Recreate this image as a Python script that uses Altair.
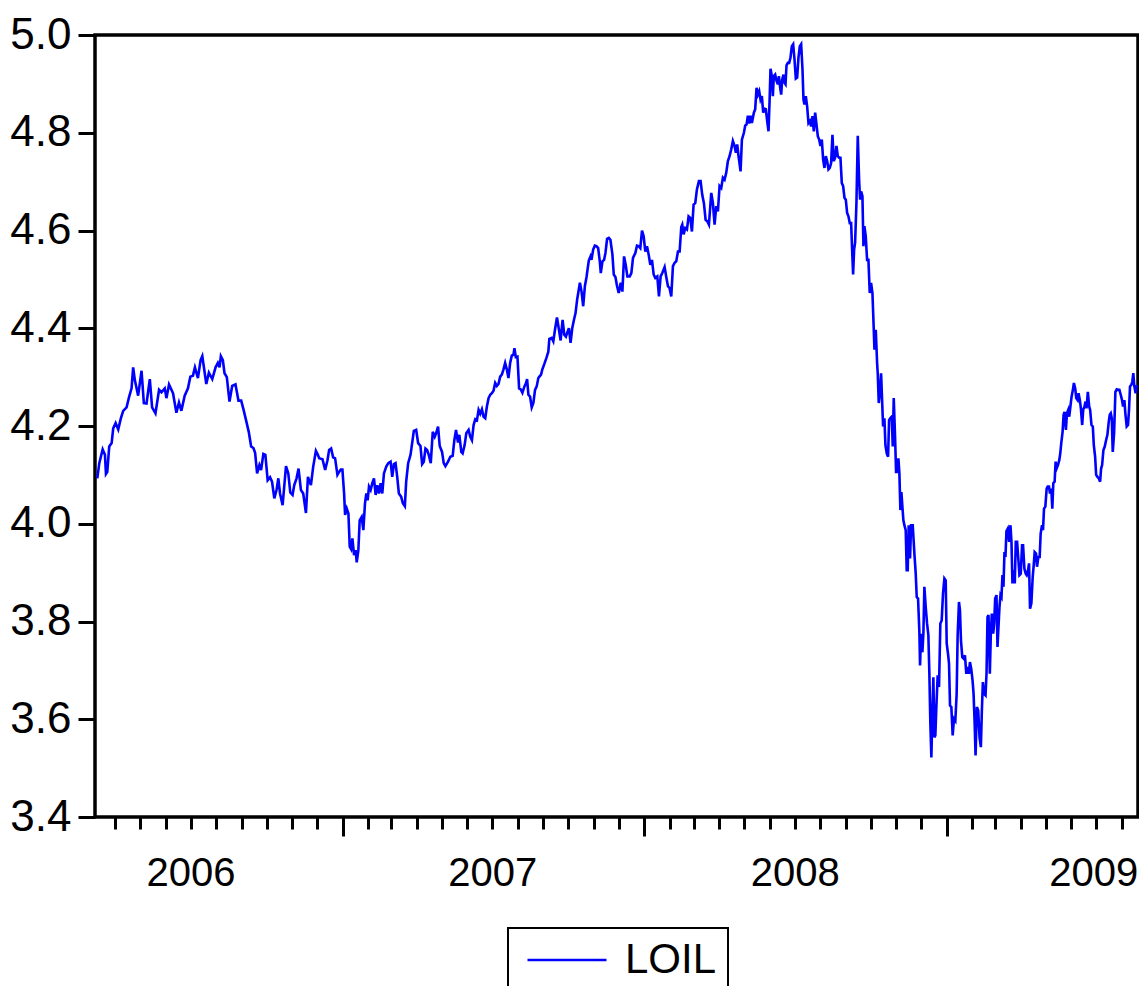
import altair as alt
import pandas as pd

# (decimal year, LOIL) readings, split by period
seg_2006 = [
    (2006.1868, 4.093), (2006.1934, 4.124), (2006.2046, 4.152), (2006.2122, 4.141), (2006.2155, 4.102),
    (2006.2198, 4.106), (2006.2264, 4.158), (2006.2344, 4.165), (2006.2396, 4.195), (2006.2476, 4.206),
    (2006.2562, 4.193), (2006.2651, 4.216), (2006.2727, 4.231), (2006.2839, 4.238), (2006.2925, 4.260),
    (2006.3004, 4.277), (2006.3057, 4.320), (2006.3113, 4.294), (2006.3222, 4.262), (2006.3335, 4.313),
    (2006.3411, 4.247), (2006.3500, 4.246), (2006.3609, 4.296), (2006.3685, 4.238), (2006.3797, 4.226),
    (2006.3916, 4.274), (2006.3995, 4.269), (2006.4104, 4.277), (2006.4160, 4.257), (2006.4246, 4.285),
    (2006.4378, 4.267), (2006.4491, 4.227), (2006.4576, 4.248), (2006.4656, 4.231), (2006.4765, 4.262),
    (2006.4874, 4.277), (2006.4953, 4.301), (2006.5039, 4.303), (2006.5105, 4.320), (2006.5204, 4.298),
    (2006.5293, 4.335), (2006.5349, 4.343), (2006.5482, 4.286), (2006.5567, 4.309), (2006.5680, 4.296),
    (2006.5789, 4.320), (2006.5865, 4.329), (2006.5921, 4.320), (2006.5964, 4.343), (2006.6030, 4.335),
    (2006.6086, 4.308), (2006.6162, 4.300), (2006.6251, 4.250), (2006.6340, 4.282), (2006.6449, 4.285),
    (2006.6548, 4.252), (2006.6638, 4.252), (2006.6714, 4.234), (2006.6803, 4.211), (2006.6889, 4.188),
    (2006.6968, 4.158), (2006.7044, 4.155), (2006.7100, 4.145), (2006.7166, 4.103), (2006.7242, 4.120),
    (2006.7298, 4.110), (2006.7374, 4.143), (2006.7440, 4.141), (2006.7516, 4.089), (2006.7595, 4.095),
    (2006.7661, 4.086), (2006.7737, 4.052), (2006.7813, 4.070), (2006.7870, 4.093), (2006.7926, 4.062),
    (2006.8012, 4.038), (2006.8124, 4.118), (2006.8200, 4.103), (2006.8266, 4.064), (2006.8342, 4.059),
    (2006.8398, 4.079), (2006.8474, 4.093), (2006.8540, 4.113), (2006.8619, 4.069), (2006.8695, 4.062),
    (2006.8785, 4.022), (2006.8851, 4.096), (2006.8950, 4.079), (2006.9026, 4.117), (2006.9115, 4.149),
    (2006.9181, 4.141),
]

seg_2007a = [
    (2006.9224, 4.134), (2006.9334, 4.132), (2006.9422, 4.110), (2006.9499, 4.130), (2006.9554, 4.151),
    (2006.9620, 4.154), (2006.9686, 4.136), (2006.9752, 4.134), (2006.9829, 4.100), (2006.9884, 4.106),
    (2006.9940, 4.111), (2006.9994, 4.111), (2007.0050, 4.062), (2007.0083, 4.018), (2007.0138, 4.031),
    (2007.0193, 4.021), (2007.0237, 3.953), (2007.0281, 3.948), (2007.0325, 3.970), (2007.0380, 3.936),
    (2007.0435, 3.946), (2007.0468, 3.921), (2007.0523, 3.946), (2007.0567, 4.007), (2007.0633, 4.014),
    (2007.0688, 3.987), (2007.0743, 4.042), (2007.0787, 4.062), (2007.0831, 4.048), (2007.0875, 4.076),
    (2007.0930, 4.069), (2007.0985, 4.083), (2007.1040, 4.093), (2007.1096, 4.059), (2007.1150, 4.079),
    (2007.1206, 4.062), (2007.1261, 4.083), (2007.1316, 4.062), (2007.1371, 4.103), (2007.1448, 4.117),
    (2007.1514, 4.124), (2007.1591, 4.127), (2007.1646, 4.096), (2007.1701, 4.122), (2007.1756, 4.124),
    (2007.1811, 4.096), (2007.1866, 4.062), (2007.1943, 4.055), (2007.1998, 4.042), (2007.2064, 4.036),
    (2007.2108, 4.086), (2007.2174, 4.124), (2007.2252, 4.141), (2007.2306, 4.165), (2007.2362, 4.190),
    (2007.2439, 4.192), (2007.2505, 4.165), (2007.2582, 4.159), (2007.2637, 4.122), (2007.2692, 4.127),
    (2007.2747, 4.154), (2007.2802, 4.151), (2007.2857, 4.141), (2007.2923, 4.124), (2007.2989, 4.188),
    (2007.3055, 4.178), (2007.3099, 4.185), (2007.3165, 4.199), (2007.3220, 4.159), (2007.3297, 4.147),
    (2007.3353, 4.124), (2007.3408, 4.118), (2007.3496, 4.127), (2007.3573, 4.137), (2007.3650, 4.139),
    (2007.3705, 4.171), (2007.3760, 4.192), (2007.3826, 4.166), (2007.3870, 4.182), (2007.3936, 4.147),
    (2007.3980, 4.144), (2007.4046, 4.161), (2007.4101, 4.185), (2007.4178, 4.192), (2007.4233, 4.178),
    (2007.4288, 4.171), (2007.4343, 4.202), (2007.4399, 4.214), (2007.4454, 4.212), (2007.4509, 4.233),
    (2007.4564, 4.225), (2007.4619, 4.234), (2007.4674, 4.219), (2007.4729, 4.216), (2007.4784, 4.240),
    (2007.4839, 4.257), (2007.4894, 4.264), (2007.4949, 4.267), (2007.5004, 4.272), (2007.5059, 4.288),
    (2007.5114, 4.282), (2007.5169, 4.286), (2007.5224, 4.301), (2007.5279, 4.305), (2007.5334, 4.316),
    (2007.5389, 4.329), (2007.5444, 4.316), (2007.5499, 4.298), (2007.5555, 4.329), (2007.5609, 4.344),
    (2007.5665, 4.346), (2007.5698, 4.359), (2007.5742, 4.341), (2007.5797, 4.342), (2007.5852, 4.277),
    (2007.5907, 4.275), (2007.5962, 4.268), (2007.6028, 4.281), (2007.6072, 4.286), (2007.6116, 4.296),
    (2007.6160, 4.264), (2007.6215, 4.260), (2007.6270, 4.238), (2007.6325, 4.247), (2007.6380, 4.274),
    (2007.6435, 4.281), (2007.6490, 4.298),
]

seg_2007b = [
    (2007.6512, 4.300), (2007.6579, 4.305), (2007.6623, 4.316), (2007.6689, 4.327), (2007.6755, 4.339),
    (2007.6821, 4.352), (2007.6854, 4.378), (2007.6931, 4.380), (2007.6986, 4.373), (2007.7041, 4.397),
    (2007.7107, 4.422), (2007.7173, 4.397), (2007.7228, 4.375), (2007.7294, 4.417), (2007.7349, 4.387),
    (2007.7404, 4.383), (2007.7459, 4.393), (2007.7503, 4.400), (2007.7558, 4.370), (2007.7613, 4.400),
    (2007.7669, 4.417), (2007.7723, 4.431), (2007.7779, 4.460), (2007.7812, 4.472), (2007.7867, 4.493),
    (2007.7922, 4.475), (2007.7977, 4.445), (2007.8032, 4.486), (2007.8087, 4.505), (2007.8120, 4.520),
    (2007.8164, 4.539), (2007.8219, 4.547), (2007.8252, 4.540), (2007.8307, 4.561), (2007.8362, 4.569),
    (2007.8417, 4.568), (2007.8472, 4.564), (2007.8527, 4.537), (2007.8560, 4.513), (2007.8615, 4.537),
    (2007.8670, 4.540), (2007.8714, 4.554), (2007.8769, 4.583), (2007.8825, 4.585), (2007.8879, 4.581),
    (2007.8945, 4.551), (2007.8990, 4.510), (2007.9045, 4.505), (2007.9100, 4.486), (2007.9155, 4.472),
    (2007.9221, 4.493), (2007.9276, 4.475), (2007.9331, 4.547), (2007.9386, 4.530), (2007.9441, 4.506),
    (2007.9518, 4.506), (2007.9573, 4.513), (2007.9628, 4.544), (2007.9705, 4.554), (2007.9760, 4.569),
    (2007.9815, 4.568), (2007.9870, 4.564), (2007.9926, 4.600), (2007.9981, 4.588),
]

seg_2008a = [
    (2008.0036, 4.557), (2008.0091, 4.568), (2008.0146, 4.551), (2008.0201, 4.530), (2008.0256, 4.540),
    (2008.0311, 4.510), (2008.0366, 4.503), (2008.0432, 4.506), (2008.0487, 4.465), (2008.0542, 4.506),
    (2008.0597, 4.513), (2008.0674, 4.525), (2008.0729, 4.505), (2008.0784, 4.486), (2008.0839, 4.482),
    (2008.0894, 4.465), (2008.0949, 4.527), (2008.1005, 4.534), (2008.1059, 4.537), (2008.1115, 4.557),
    (2008.1170, 4.557), (2008.1225, 4.607), (2008.1258, 4.612), (2008.1302, 4.592), (2008.1357, 4.605),
    (2008.1412, 4.602), (2008.1467, 4.629), (2008.1522, 4.626), (2008.1577, 4.598), (2008.1632, 4.653),
    (2008.1687, 4.656), (2008.1742, 4.684), (2008.1808, 4.701), (2008.1863, 4.701), (2008.1918, 4.673),
    (2008.1973, 4.656), (2008.2029, 4.622), (2008.2083, 4.619), (2008.2139, 4.612), (2008.2216, 4.677),
    (2008.2271, 4.656), (2008.2326, 4.612), (2008.2381, 4.650), (2008.2436, 4.639), (2008.2491, 4.691),
    (2008.2546, 4.687), (2008.2601, 4.708), (2008.2656, 4.704), (2008.2711, 4.718), (2008.2766, 4.742),
]

seg_2008b = [
    (2008.2821, 4.752), (2008.2876, 4.766), (2008.2931, 4.783), (2008.2986, 4.773), (2008.3030, 4.759),
    (2008.3074, 4.776), (2008.3118, 4.752), (2008.3185, 4.721), (2008.3229, 4.786), (2008.3295, 4.800),
    (2008.3339, 4.815), (2008.3383, 4.817), (2008.3427, 4.835), (2008.3471, 4.819), (2008.3515, 4.835),
    (2008.3559, 4.820), (2008.3625, 4.841), (2008.3669, 4.848), (2008.3713, 4.892), (2008.3757, 4.878),
    (2008.3801, 4.885), (2008.3845, 4.868), (2008.3889, 4.875), (2008.3933, 4.841), (2008.3977, 4.849),
    (2008.4021, 4.848), (2008.4065, 4.824), (2008.4109, 4.803), (2008.4142, 4.861), (2008.4175, 4.931),
    (2008.4219, 4.916), (2008.4252, 4.875), (2008.4285, 4.916), (2008.4329, 4.919), (2008.4374, 4.906),
    (2008.4418, 4.899), (2008.4451, 4.916), (2008.4495, 4.892), (2008.4528, 4.878), (2008.4561, 4.909),
    (2008.4605, 4.919), (2008.4638, 4.902), (2008.4671, 4.899), (2008.4704, 4.938), (2008.4748, 4.943),
    (2008.4792, 4.943), (2008.4836, 4.954), (2008.4880, 4.977), (2008.4924, 4.981), (2008.4968, 4.950),
    (2008.5012, 4.911), (2008.5056, 4.913), (2008.5100, 4.954), (2008.5144, 4.977), (2008.5188, 4.981),
    (2008.5232, 4.930), (2008.5265, 4.868), (2008.5298, 4.858), (2008.5342, 4.875), (2008.5386, 4.854),
    (2008.5430, 4.820), (2008.5474, 4.824), (2008.5518, 4.813), (2008.5563, 4.834), (2008.5607, 4.803),
    (2008.5651, 4.841), (2008.5695, 4.817), (2008.5739, 4.793), (2008.5783, 4.786), (2008.5827, 4.773),
    (2008.5871, 4.786), (2008.5915, 4.745), (2008.5959, 4.728), (2008.6003, 4.752), (2008.6047, 4.742),
    (2008.6091, 4.725), (2008.6135, 4.728), (2008.6179, 4.738), (2008.6223, 4.796), (2008.6267, 4.742),
    (2008.6311, 4.749), (2008.6355, 4.773), (2008.6399, 4.752), (2008.6443, 4.749), (2008.6487, 4.749),
    (2008.6532, 4.697), (2008.6576, 4.691), (2008.6620, 4.667), (2008.6664, 4.663), (2008.6708, 4.636),
    (2008.6752, 4.629), (2008.6796, 4.615), (2008.6840, 4.615), (2008.6873, 4.561), (2008.6906, 4.510),
    (2008.6939, 4.561), (2008.6972, 4.575), (2008.7016, 4.656), (2008.7060, 4.794), (2008.7104, 4.704),
    (2008.7137, 4.663), (2008.7170, 4.680), (2008.7214, 4.670), (2008.7247, 4.568), (2008.7280, 4.609),
    (2008.7324, 4.588), (2008.7368, 4.540), (2008.7412, 4.540), (2008.7456, 4.472), (2008.7500, 4.493),
    (2008.7545, 4.472), (2008.7589, 4.397), (2008.7611, 4.356), (2008.7655, 4.397), (2008.7699, 4.329),
]

seg_2008c = [
    (2008.7720, 4.308), (2008.7754, 4.247), (2008.7798, 4.274), (2008.7831, 4.308), (2008.7864, 4.253),
    (2008.7897, 4.199), (2008.7941, 4.216), (2008.7974, 4.161), (2008.8018, 4.144), (2008.8062, 4.137),
    (2008.8095, 4.212), (2008.8139, 4.216), (2008.8183, 4.219), (2008.8216, 4.158), (2008.8249, 4.257),
    (2008.8293, 4.178), (2008.8326, 4.106), (2008.8359, 4.106), (2008.8403, 4.134), (2008.8436, 4.103),
    (2008.8469, 4.028), (2008.8502, 4.065), (2008.8535, 4.035), (2008.8568, 4.007), (2008.8601, 3.997),
    (2008.8645, 3.987), (2008.8678, 3.905), (2008.8711, 3.905), (2008.8744, 3.997), (2008.8788, 3.929),
    (2008.8822, 3.997), (2008.8877, 3.997), (2008.8932, 3.939), (2008.8976, 3.898), (2008.9009, 3.850),
    (2008.9053, 3.847), (2008.9097, 3.778), (2008.9119, 3.710), (2008.9152, 3.775), (2008.9196, 3.737),
    (2008.9229, 3.775), (2008.9262, 3.871), (2008.9306, 3.830), (2008.9350, 3.796), (2008.9394, 3.772),
    (2008.9427, 3.693), (2008.9460, 3.591), (2008.9493, 3.522), (2008.9526, 3.611), (2008.9559, 3.686),
    (2008.9592, 3.563), (2008.9625, 3.567), (2008.9658, 3.625), (2008.9702, 3.690), (2008.9746, 3.666),
    (2008.9790, 3.796), (2008.9834, 3.802), (2008.9878, 3.857), (2008.9923, 3.888), (2008.9967, 3.884),
]

seg_2009a = [
    (2009.0000, 3.755), (2009.0044, 3.734), (2009.0077, 3.714), (2009.0110, 3.628), (2009.0154, 3.625),
    (2009.0198, 3.567), (2009.0242, 3.601), (2009.0286, 3.597), (2009.0330, 3.652), (2009.0363, 3.772),
    (2009.0407, 3.840), (2009.0440, 3.823), (2009.0473, 3.761), (2009.0517, 3.727), (2009.0561, 3.724),
    (2009.0605, 3.731), (2009.0649, 3.693), (2009.0693, 3.707), (2009.0737, 3.693), (2009.0770, 3.717),
    (2009.0814, 3.703), (2009.0858, 3.679), (2009.0891, 3.652), (2009.0924, 3.597), (2009.0957, 3.526),
    (2009.1001, 3.625), (2009.1045, 3.618), (2009.1089, 3.563), (2009.1133, 3.543), (2009.1166, 3.618),
    (2009.1199, 3.676), (2009.1243, 3.652), (2009.1287, 3.649), (2009.1320, 3.693), (2009.1353, 3.809),
    (2009.1386, 3.813), (2009.1430, 3.693), (2009.1463, 3.775), (2009.1496, 3.816), (2009.1541, 3.775),
    (2009.1574, 3.796), (2009.1607, 3.847), (2009.1651, 3.854), (2009.1684, 3.748),
]

seg_2009b = [
    (2009.1750, 3.830), (2009.1783, 3.854), (2009.1816, 3.850), (2009.1849, 3.895), (2009.1882, 3.871),
    (2009.1915, 3.942), (2009.1948, 3.932), (2009.1981, 3.985), (2009.2025, 3.990), (2009.2070, 3.963),
    (2009.2114, 3.997), (2009.2147, 3.963), (2009.2180, 3.878), (2009.2213, 3.905), (2009.2257, 3.878),
    (2009.2290, 3.963), (2009.2334, 3.963), (2009.2378, 3.925), (2009.2411, 3.895), (2009.2455, 3.898),
    (2009.2499, 3.956), (2009.2532, 3.956), (2009.2576, 3.908), (2009.2620, 3.898), (2009.2653, 3.895),
    (2009.2697, 3.905), (2009.2730, 3.919), (2009.2763, 3.826), (2009.2807, 3.837), (2009.2851, 3.891),
    (2009.2884, 3.915), (2009.2917, 3.942), (2009.2961, 3.939), (2009.2994, 3.912), (2009.3038, 3.932),
    (2009.3082, 3.932), (2009.3115, 3.980), (2009.3160, 3.997), (2009.3193, 3.987), (2009.3226, 4.031),
    (2009.3270, 4.035), (2009.3314, 4.072), (2009.3347, 4.076), (2009.3391, 4.076), (2009.3424, 4.062),
    (2009.3468, 4.072), (2009.3501, 4.031), (2009.3534, 4.083), (2009.3578, 4.086), (2009.3611, 4.127),
    (2009.3644, 4.113), (2009.3688, 4.120), (2009.3732, 4.130), (2009.3765, 4.144), (2009.3798, 4.165),
    (2009.3842, 4.188), (2009.3875, 4.223), (2009.3908, 4.229), (2009.3952, 4.192), (2009.3986, 4.226),
    (2009.4030, 4.233), (2009.4063, 4.219), (2009.4107, 4.243), (2009.4140, 4.260), (2009.4184, 4.274),
    (2009.4217, 4.288), (2009.4261, 4.277), (2009.4294, 4.257), (2009.4338, 4.253), (2009.4371, 4.267),
    (2009.4415, 4.253), (2009.4448, 4.236), (2009.4492, 4.202), (2009.4525, 4.233), (2009.4569, 4.240),
    (2009.4602, 4.250), (2009.4635, 4.236), (2009.4679, 4.270), (2009.4723, 4.240), (2009.4756, 4.233),
    (2009.4800, 4.202), (2009.4844, 4.199), (2009.4877, 4.161), (2009.4921, 4.137), (2009.4954, 4.100),
    (2009.4998, 4.096), (2009.5042, 4.093), (2009.5086, 4.086), (2009.5119, 4.113), (2009.5152, 4.120),
    (2009.5196, 4.151), (2009.5240, 4.158), (2009.5284, 4.171), (2009.5328, 4.182), (2009.5373, 4.209),
    (2009.5406, 4.223), (2009.5439, 4.226), (2009.5472, 4.216), (2009.5505, 4.147), (2009.5549, 4.185),
    (2009.5593, 4.270), (2009.5637, 4.275), (2009.5681, 4.274), (2009.5725, 4.274), (2009.5769, 4.264),
    (2009.5813, 4.253), (2009.5846, 4.240), (2009.5890, 4.253), (2009.5923, 4.226), (2009.5967, 4.199),
    (2009.6011, 4.202), (2009.6044, 4.233), (2009.6077, 4.281), (2009.6121, 4.284), (2009.6154, 4.291),
    (2009.6187, 4.308), (2009.6220, 4.281), (2009.6264, 4.267), (2009.6297, 4.284),
]

x_range_years = [2006.1792, 2009.6342]
y_ticks = [3.4, 3.6, 3.8, 4.0, 4.2, 4.4, 4.6, 4.8, 5.0]
series_name = "LOIL"
line_color = "#0000ff"
FONT = "Liberation Sans"


def to_ts(y):
    yr = int(y)
    start = pd.Timestamp(year=yr, month=1, day=1)
    n = (pd.Timestamp(year=yr + 1, month=1, day=1) - start).days
    return start + pd.Timedelta(days=(y - yr) * n)


def to_dt(ts):
    return alt.DateTime(year=ts.year, month=ts.month, date=ts.day,
                        hours=ts.hour, minutes=ts.minute)


rows = []
for seg in [seg_2006, seg_2007a, seg_2007b, seg_2008a, seg_2008b, seg_2008c, seg_2009a, seg_2009b]:
    for t, v in seg:
        rows.append({"date": to_ts(t), "value": v, "series": series_name})
df = pd.DataFrame(rows)

x_domain = [to_dt(to_ts(y)) for y in x_range_years]
month_ticks = []
for y in range(2006, 2010):
    for m in range(1, 13):
        ts = pd.Timestamp(year=y, month=m, day=1)
        if to_ts(x_range_years[0]) < ts < to_ts(x_range_years[1]):
            month_ticks.append(alt.DateTime(year=y, month=m, date=1))

chart = alt.Chart(df).mark_line(strokeWidth=2.6, clip=True).encode(
    x=alt.X(
        "date:T",
        title=None,
        scale=alt.Scale(domain=x_domain, nice=False),
        axis=alt.Axis(
            values=month_ticks,
            tickSize={"condition": {"test": "month(datum.value) == 0", "value": 19}, "value": 12},
            labelExpr="month(datum.value) == 6 ? timeFormat(datum.value, '%Y') : ''",
            labelOverlap=False,
            labelPadding=24,
            labelFlush=False,
            labelFontSize=40,
            labelOffset={"condition": {"test": "year(datum.value) == 2009", "value": -3}, "value": 0},
        ),
    ),
    y=alt.Y(
        "value:Q",
        title=None,
        scale=alt.Scale(domain=[3.4, 5.0], nice=False, zero=False),
        axis=alt.Axis(values=y_ticks, format=".1f", tickSize=17, labelPadding=7, labelFontSize=44),
    ),
    color=alt.Color(
        "series:N",
        scale=alt.Scale(domain=[series_name], range=[line_color]),
        legend=alt.Legend(
            title=None,
            orient="none",
            legendX=413,
            legendY=893,
            direction="horizontal",
            symbolType="M-2,0H2",
            symbolSize=1560,
            symbolStrokeWidth=2.5,
            symbolOffset=27,
            labelFontSize=42,
            labelFont=FONT,
            labelColor="black",
            labelOffset=37,
            padding=11,
            strokeColor="black",
        ),
    ),
).properties(
    width=1043,
    height=782,
    autosize=alt.AutoSizeParams(type="none"),
    padding={"left": 87, "top": 27, "right": 1, "bottom": 169},
).configure_view(
    stroke="black",
    strokeWidth=3.5,
).configure_axis(
    domain=False,
    grid=False,
    ticks=True,
    tickColor="black",
    tickWidth=3,
    labelColor="black",
    labelFont=FONT,
).configure_legend(
    strokeWidth=2,
)

chart.save("out.html", embed_options={"renderer": "svg", "actions": False})
